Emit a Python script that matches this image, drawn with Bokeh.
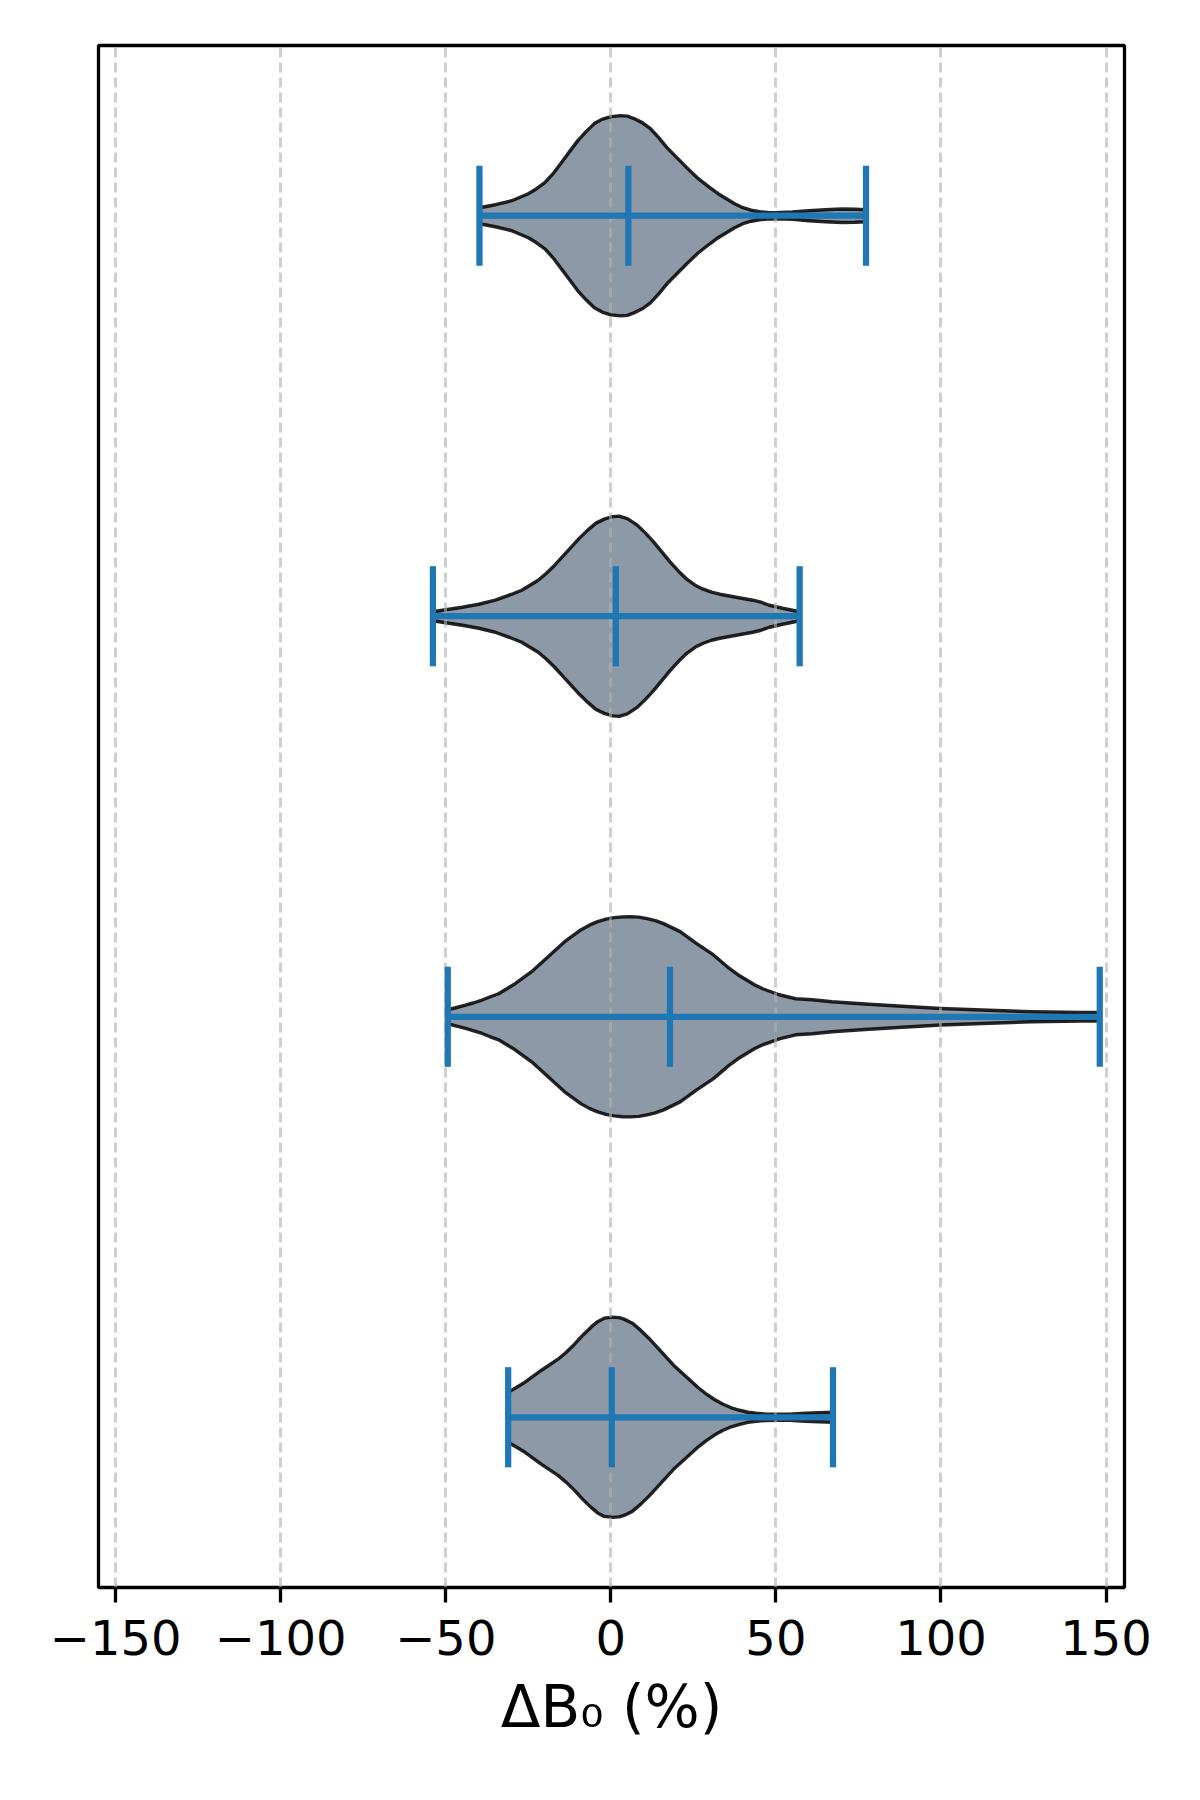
from bokeh.plotting import figure
from bokeh.models import Range1d, FixedTicker, CustomJSTickFormatter, ColumnDataSource
from bokeh.embed import file_html
from bokeh.resources import INLINE

# ---------------- data ----------------
# violin positions, bottom to top
positions = [1, 2, 3, 4]

# extrema and means of each violin (ΔB0 in %)
mins = [-31.1, -49.4, -53.9, -39.8]
maxs = [67.3, 148.1, 57.2, 77.3]
means = [0.3, 17.9, 1.5, 5.3]

# density profiles (relative to each violin's own maximum)
v1_vals = [-31.1, -28.5, -26, -23.5, -21, -18.5, -16, -13.5, -11, -8.5, -6, -4,
           -2, 0.5, 2.5, 4, 6.5, 9, 11.5, 14, 16.5, 19, 21.5, 24, 26.5, 29, 31.5,
           34, 36.5, 39, 41.5, 44, 47, 50, 54, 59, 63, 67.3]
v1_dens = [0.25, 0.30, 0.35, 0.41, 0.47, 0.525, 0.58, 0.65, 0.73, 0.82, 0.90, 0.955,
           0.99, 1.0, 0.995, 0.98, 0.94, 0.87, 0.79, 0.70, 0.61, 0.52, 0.445, 0.37,
           0.295, 0.23, 0.175, 0.13, 0.095, 0.07, 0.05, 0.04, 0.032, 0.03, 0.03,
           0.04, 0.045, 0.05]

v2_vals = [-49.4, -47, -44, -41.5, -39, -36.5, -34, -31.5, -29, -26.5, -24, -21.5,
           -19, -16.5, -14, -11.5, -9, -6.5, -4, -1.5, 1, 3.5, 6, 8.5, 11, 13.5, 16,
           18.5, 21, 23.5, 26, 28.5, 31, 33.5, 36, 38.5, 41, 43.5, 46, 48.5, 51,
           53.5, 56, 61, 67, 77, 87, 100, 112.5, 127.5, 142.5, 148.1]
v2_dens = [0.07, 0.09, 0.117, 0.14, 0.167, 0.20, 0.23, 0.28, 0.33, 0.39, 0.45, 0.525,
           0.60, 0.675, 0.75, 0.81, 0.87, 0.915, 0.95, 0.975, 0.99, 0.998, 1.0,
           0.995, 0.98, 0.96, 0.93, 0.89, 0.85, 0.79, 0.73, 0.675, 0.62, 0.55, 0.48,
           0.42, 0.37, 0.32, 0.28, 0.25, 0.22, 0.20, 0.18, 0.17, 0.15, 0.127, 0.107,
           0.083, 0.067, 0.05, 0.043, 0.042]

v3_vals = [-53.9, -50, -45, -40, -35, -30, -27, -24.5, -22, -19.5, -17, -14.5, -12,
           -9.5, -7, -4.5, -2, 0.5, 2.5, 5, 8, 10.5, 13, 15.5, 18, 20.5, 23, 25.5,
           28, 30.5, 33, 35.5, 38, 40.5, 43, 45.5, 48, 52, 57.2]
v3_dens = [0.045, 0.065, 0.09, 0.12, 0.16, 0.22, 0.26, 0.31, 0.36, 0.43, 0.51, 0.60,
           0.69, 0.78, 0.86, 0.93, 0.97, 0.995, 1.0, 0.975, 0.91, 0.83, 0.74, 0.64,
           0.54, 0.45, 0.37, 0.31, 0.27, 0.24, 0.22, 0.205, 0.19, 0.175, 0.16, 0.14,
           0.11, 0.08, 0.045]

v4_vals = [-39.8, -35, -30, -25, -22.5, -20, -17.5, -15, -12.5, -10, -7.5, -5, -2.5,
           0, 3, 5, 7, 9.5, 12, 14.5, 17, 20, 23, 26.5, 30, 32.5, 35, 37.5, 40,
           42.5, 45, 47.5, 50, 55, 60, 65, 70, 74, 77.3]
v4_dens = [0.08, 0.11, 0.15, 0.22, 0.27, 0.33, 0.42, 0.53, 0.64, 0.75, 0.84, 0.92,
           0.965, 0.99, 1.0, 0.995, 0.97, 0.93, 0.87, 0.78, 0.68, 0.58, 0.48, 0.37,
           0.28, 0.22, 0.17, 0.12, 0.08, 0.055, 0.04, 0.033, 0.03, 0.037, 0.05,
           0.06, 0.067, 0.065, 0.06]

profile_vals = [v1_vals, v2_vals, v3_vals, v4_vals]
profile_dens = [v1_dens, v2_dens, v3_dens, v4_dens]

xticks = [-150, -100, -50, 0, 50, 100, 150]
xtick_labels = ["\u2212150", "\u2212100", "\u221250", "0", "50", "100", "150"]
x_label = "\u0394B\u2080 (%)"

# ---------------- styling ----------------
HALF_WIDTH = 0.25      # max half-height of a violin (y units)
CAP_HALF = 0.125       # half-length of extrema / mean bars
BLUE = "#1f77b4"

p = figure(frame_width=1026, frame_height=1542,
           x_range=Range1d(-155.2, 155.6), y_range=Range1d(0.575, 4.425),
           output_backend="svg", toolbar_location=None,
           y_axis_location=None,
           min_border_left=98, min_border_top=45, min_border_right=60,
           min_border_bottom=10)

p.background_fill_color = "white"
p.border_fill_color = "white"
p.outline_line_color = "black"
p.outline_line_width = 3.3

# violin bodies
xs, ys = [], []
for pos, vals, dens in zip(positions, profile_vals, profile_dens):
    upper = [pos + HALF_WIDTH * d for d in dens]
    lower = [pos - HALF_WIDTH * d for d in dens]
    xs.append(list(vals) + list(vals[::-1]))
    ys.append(upper + lower[::-1])

body = p.patches(xs=xs, ys=ys, fill_color="slategray", fill_alpha=0.8,
                 line_color="black", line_alpha=0.85, line_width=3.4,
                 line_join="round", level="image")

# blue bars
src = ColumnDataSource(dict(pos=positions, mn=mins, mx=maxs, mean=means,
                            lo=[q - CAP_HALF for q in positions],
                            hi=[q + CAP_HALF for q in positions]))
p.segment(x0="mn", x1="mx", y0="pos", y1="pos", source=src,
          line_color=BLUE, line_width=6.25, line_cap="butt")
for col in ["mn", "mx", "mean"]:
    p.segment(x0=col, x1=col, y0="lo", y1="hi", source=src,
              line_color=BLUE, line_width=6.25, line_cap="butt")

# grid
ticker = FixedTicker(ticks=xticks)
p.xgrid.ticker = ticker
p.xgrid.grid_line_color = "#b0b0b0"
p.xgrid.grid_line_alpha = 0.6
p.xgrid.grid_line_width = 3
p.xgrid.grid_line_dash = "10 5"
p.ygrid.grid_line_color = None

# x axis
ax = p.xaxis[0]
ax.ticker = ticker
ax.formatter = CustomJSTickFormatter(
    args=dict(tvals=xticks, tlabels=xtick_labels),
    code="const i = tvals.indexOf(tick); return i >= 0 ? tlabels[i] : String(tick);")
ax.axis_line_color = None
ax.major_tick_in = 0
ax.major_tick_out = 15
ax.major_tick_line_width = 3.3
ax.major_tick_line_color = "black"
ax.minor_tick_line_color = None
ax.major_label_text_font = "DejaVu Sans"
ax.major_label_text_font_size = "48px"
ax.major_label_text_color = "black"
ax.major_label_standoff = 17
ax.axis_label = x_label
ax.axis_label_text_font = "DejaVu Sans"
ax.axis_label_text_font_size = "58px"
ax.axis_label_text_font_style = "normal"
ax.axis_label_text_color = "black"
ax.axis_label_standoff = 15

open("out.html", "w").write(file_html(p, INLINE))
